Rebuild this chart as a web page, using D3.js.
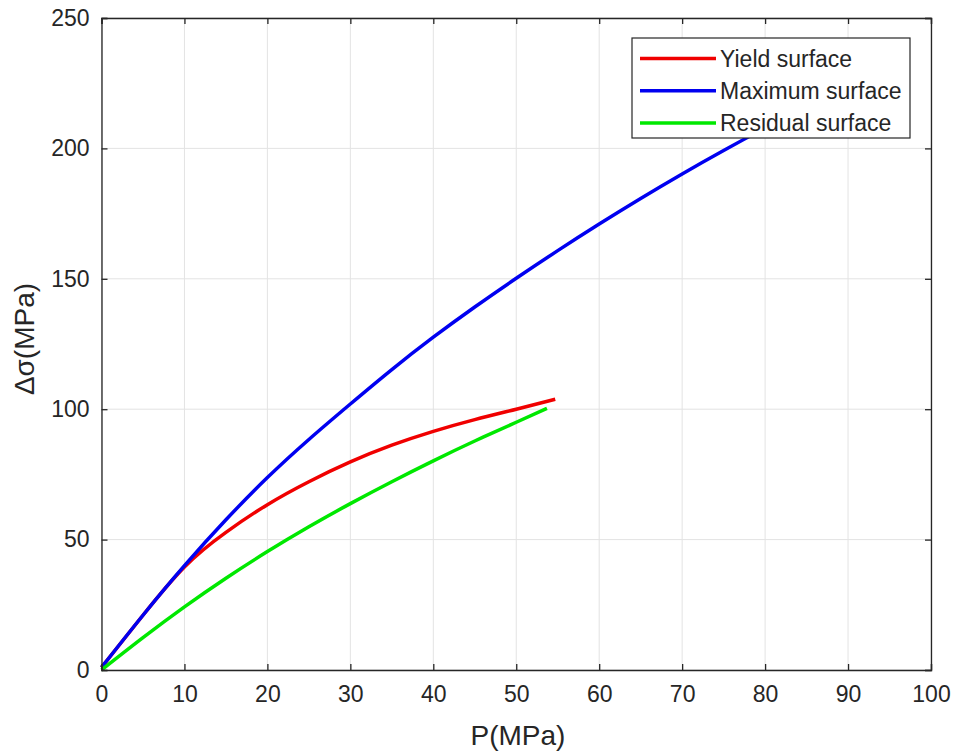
<!DOCTYPE html>
<html><head><meta charset="utf-8">
<script src="https://cdn.jsdelivr.net/npm/d3@7"></script>
<style>body{margin:0;background:#fff;} svg{display:block;font-family:"Liberation Sans",Arial,sans-serif;}</style>
</head><body>
<svg id="c" width="955" height="754"></svg>
<script>
const xTicks = [0,10,20,30,40,50,60,70,80,90,100];
const yTicks = [0,50,100,150,200,250];
const yieldP = [0,2,5,10,15,20,25,30,35,40,45,50,54.7];
const yieldQ = [1,9,21,39.5,52.8,63.4,72.2,79.8,86.2,91.5,96,100,103.8];
const maxP = [0,5,10,15,20,25,30,35,40,45,50,55,60,65,70,75,80,84];
const maxQ = [1,21,40,57.6,73.8,88.4,102,115.2,127.6,139.2,150.2,160.8,171,180.8,190.2,199.2,207.8,214.4];
const resP = [0,5,10,15,20,25,30,35,40,45,50,53.7];
const resQ = [0,12.4,24.2,35.2,45.4,54.9,63.8,72.2,80.2,87.8,95,100.3];
const seriesNames = ["Yield surface","Maximum surface","Residual surface"];
const seriesColors = ["#f00000","#0000f0","#00e800"];

const svg = d3.select("#c");
const L=101.5, R=931, T=18, B=670;
const x = d3.scaleLinear().domain([0,100]).range([L,R]);
const y = d3.scaleLinear().domain([0,250]).range([B,T]);
const FONT = "Liberation Sans, Arial, sans-serif";

// grid
svg.append("g").selectAll("line").data(xTicks).join("line")
  .attr("x1",d=>x(d)).attr("x2",d=>x(d)).attr("y1",T).attr("y2",B)
  .attr("stroke","#e3e3e3").attr("stroke-width",1);
svg.append("g").selectAll("line").data(yTicks).join("line")
  .attr("y1",d=>y(d)).attr("y2",d=>y(d)).attr("x1",L).attr("x2",R)
  .attr("stroke","#e3e3e3").attr("stroke-width",1);

// series
const series = [[yieldP,yieldQ],[maxP,maxQ],[resP,resQ]];
const line = d3.line().x(d=>x(d[0])).y(d=>y(d[1])).curve(d3.curveNatural);
series.forEach((s,i)=>{
  const pts = s[0].map((p,k)=>[p,s[1][k]]);
  svg.append("path").datum(pts).attr("d",line).attr("fill","none")
    .attr("stroke",seriesColors[i]).attr("stroke-width",3.5).attr("stroke-linecap","butt");
});

// axes
const xa = d3.axisBottom(x).tickValues(xTicks).tickSize(-6).tickPadding(16).tickFormat(d3.format("d"));
const ya = d3.axisLeft(y).tickValues(yTicks).tickSize(-6).tickPadding(12).tickFormat(d3.format("d"));
const xt = d3.axisTop(x).tickValues(xTicks).tickSize(-6).tickFormat("");
const yr = d3.axisRight(y).tickValues(yTicks).tickSize(-6).tickFormat("");
function style(g){g.selectAll("path,line").attr("stroke","#262626").attr("stroke-width",1.3);
  g.selectAll("text").attr("fill","#262626").attr("font-size",23).attr("font-family",FONT);}
svg.append("g").attr("transform",`translate(0,${B})`).call(xa).call(style);
svg.append("g").attr("transform",`translate(${L},0)`).call(ya).call(style);
svg.append("g").attr("transform",`translate(0,${T})`).call(xt).call(style);
svg.append("g").attr("transform",`translate(${R},0)`).call(yr).call(style);

// labels
svg.append("text").attr("x",518).attr("y",745).attr("text-anchor","middle")
  .attr("font-size",28).attr("fill","#262626").text("P(MPa)");
svg.append("text").attr("transform",`translate(34,339) rotate(-90)`).attr("text-anchor","middle")
  .attr("font-size",28).attr("fill","#262626").text("Δσ(MPa)");

// legend
const lg = svg.append("g");
lg.append("rect").attr("x",632).attr("y",38).attr("width",278).attr("height",100)
  .attr("fill","#fff").attr("stroke","#262626").attr("stroke-width",1.2);
seriesNames.forEach((n,i)=>{
  const yy = 58.5 + i*32.3;
  lg.append("line").attr("x1",640).attr("x2",716).attr("y1",yy).attr("y2",yy)
    .attr("stroke",seriesColors[i]).attr("stroke-width",3.5);
  lg.append("text").attr("x",720).attr("y",yy+8).attr("font-size",23).attr("fill","#262626").text(n);
});
</script>
</body></html>
